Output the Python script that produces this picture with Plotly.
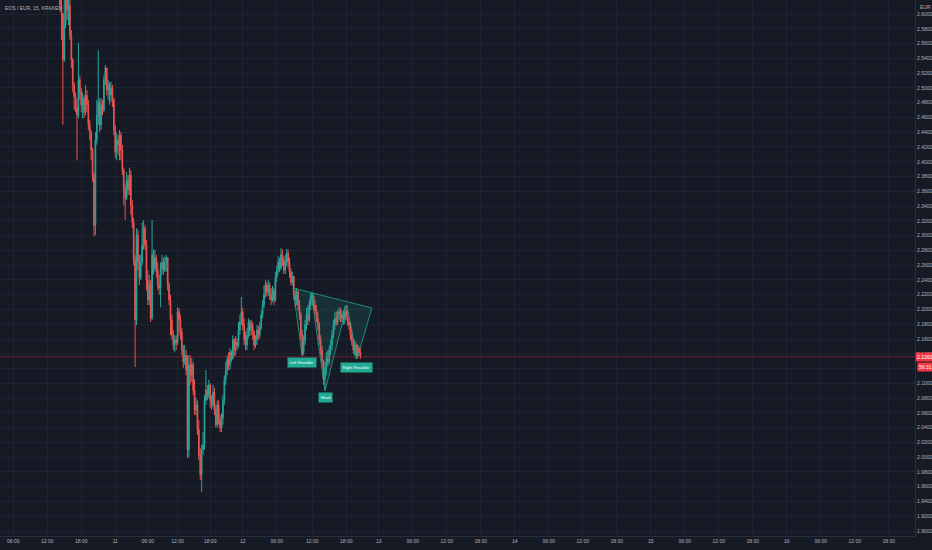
import plotly.graph_objects as go

TITLE = "EOS / EUR, 15, KRAKEN"
FIRST_OPEN = 2.633
CLOSE = [
 2.612,2.601,2.538,2.585,2.626,2.605,2.612,2.572,2.538,2.504,
 2.488,2.473,2.463,2.511,2.494,2.477,2.486,2.467,2.490,2.477,
 2.450,2.440,2.416,2.382,2.314,2.429,2.463,2.481,2.450,2.477,
 2.470,2.511,2.527,2.497,2.504,2.490,2.500,2.484,2.443,2.413,
 2.429,2.423,2.436,2.416,2.389,2.362,2.351,2.375,2.362,2.382,
 2.341,2.318,2.267,2.186,2.301,2.264,2.243,2.264,2.287,2.310,
 2.287,2.240,2.213,2.233,2.188,2.274,2.256,2.270,2.253,2.233,
 2.229,2.256,2.264,2.253,2.264,2.270,2.233,2.213,2.186,2.165,
 2.152,2.159,2.155,2.197,2.186,2.170,2.145,2.129,2.138,2.118,
 2.010,2.125,2.111,2.125,2.091,2.064,2.071,2.037,2.003,1.976,
 2.010,2.017,2.077,2.091,2.084,2.098,2.077,2.071,2.088,2.064,
 2.044,2.071,2.050,2.040,2.053,2.077,2.105,2.118,2.132,2.125,
 2.142,2.134,2.159,2.145,2.156,2.152,2.172,2.183,2.197,2.179,
 2.159,2.152,2.165,2.183,2.172,2.179,2.170,2.152,2.159,2.172,
 2.165,2.175,2.193,2.206,2.220,2.233,2.224,2.233,2.220,2.213,
 2.226,2.213,2.243,2.253,2.264,2.256,2.274,2.267,2.253,2.264,
 2.276,2.264,2.251,2.237,2.245,2.220,2.213,2.224,2.206,2.193,
 2.165,2.142,2.159,2.179,2.193,2.186,2.206,2.216,2.218,2.206,
 2.199,2.188,2.179,2.159,2.145,2.129,2.105,2.121,2.134,2.129,
 2.145,2.152,2.165,2.179,2.188,2.183,2.194,2.197,2.188,2.193,
 2.186,2.197,2.191,2.183,2.179,2.165,2.156,2.145,2.152,2.138,
 2.148,2.142,2.136,
]
HIGH = [
 2.646,2.619,2.585,2.619,2.639,2.633,2.626,2.619,2.578,2.540,
 2.508,2.494,2.484,2.561,2.517,2.500,2.494,2.490,2.504,2.497,
 2.484,2.457,2.443,2.419,2.386,2.440,2.484,2.551,2.486,2.486,
 2.484,2.517,2.531,2.527,2.511,2.508,2.508,2.504,2.486,2.450,
 2.439,2.436,2.443,2.440,2.423,2.392,2.369,2.386,2.382,2.392,
 2.389,2.348,2.324,2.274,2.310,2.308,2.274,2.274,2.318,2.321,
 2.314,2.294,2.253,2.247,2.240,2.321,2.281,2.281,2.274,2.264,
 2.247,2.264,2.274,2.270,2.272,2.274,2.267,2.237,2.220,2.193,
 2.172,2.165,2.165,2.203,2.202,2.193,2.175,2.152,2.152,2.145,
 2.138,2.138,2.138,2.134,2.129,2.105,2.080,2.077,2.050,2.012,
 2.017,2.034,2.084,2.118,2.098,2.105,2.100,2.084,2.098,2.094,
 2.071,2.077,2.077,2.057,2.059,2.084,2.111,2.129,2.138,2.142,
 2.148,2.145,2.165,2.161,2.164,2.161,2.183,2.193,2.217,2.202,
 2.188,2.170,2.175,2.188,2.186,2.186,2.183,2.172,2.165,2.179,
 2.178,2.183,2.199,2.213,2.233,2.240,2.237,2.240,2.237,2.229,
 2.232,2.229,2.251,2.259,2.272,2.270,2.283,2.281,2.272,2.274,
 2.282,2.281,2.270,2.256,2.251,2.232,2.226,2.229,2.226,2.213,
 2.197,2.172,2.165,2.186,2.202,2.206,2.213,2.222,2.224,2.221,
 2.213,2.206,2.197,2.183,2.165,2.151,2.132,2.129,2.142,2.145,
 2.151,2.159,2.172,2.186,2.197,2.197,2.199,2.203,2.202,2.199,
 2.199,2.205,2.206,2.199,2.188,2.183,2.172,2.161,2.159,2.156,
 2.153,2.151,2.148,
]
LOW = [
 2.603,2.565,2.450,2.535,2.581,2.592,2.585,2.565,2.527,2.494,
 2.470,2.467,2.402,2.459,2.484,2.467,2.459,2.459,2.463,2.467,
 2.443,2.429,2.402,2.373,2.299,2.301,2.423,2.450,2.440,2.443,
 2.463,2.467,2.504,2.490,2.484,2.477,2.481,2.474,2.436,2.405,
 2.402,2.409,2.402,2.402,2.382,2.341,2.321,2.348,2.355,2.355,
 2.328,2.310,2.260,2.122,2.179,2.253,2.233,2.240,2.260,2.281,
 2.281,2.226,2.206,2.206,2.183,2.186,2.247,2.251,2.243,2.226,
 2.220,2.203,2.247,2.247,2.251,2.251,2.226,2.206,2.165,2.159,
 2.145,2.142,2.145,2.152,2.165,2.159,2.138,2.121,2.125,2.111,
 1.999,2.000,2.098,2.102,2.084,2.057,2.057,2.030,1.996,1.969,
 1.953,2.003,2.010,2.071,2.077,2.080,2.067,2.064,2.067,2.057,
 2.040,2.040,2.044,2.034,2.034,2.044,2.071,2.098,2.111,2.118,
 2.118,2.129,2.132,2.137,2.138,2.145,2.148,2.165,2.179,2.172,
 2.152,2.145,2.145,2.161,2.164,2.165,2.159,2.145,2.148,2.152,
 2.159,2.161,2.172,2.188,2.202,2.216,2.218,2.218,2.213,2.206,
 2.210,2.206,2.210,2.237,2.247,2.251,2.253,2.259,2.248,2.248,
 2.259,2.256,2.243,2.233,2.232,2.213,2.203,2.206,2.199,2.186,
 2.159,2.137,2.138,2.152,2.172,2.179,2.183,2.199,2.206,2.199,
 2.193,2.183,2.172,2.152,2.138,2.121,2.098,2.090,2.111,2.123,
 2.125,2.138,2.145,2.161,2.172,2.178,2.179,2.186,2.183,2.183,
 2.179,2.180,2.186,2.178,2.172,2.159,2.151,2.140,2.137,2.133,
 2.134,2.137,2.133,
]
OPEN = [FIRST_OPEN] + CLOSE[:-1]
BARS = list(range(len(CLOSE)))

TICK_POS = [-33, -9, 15, 39, 62, 83, 106, 129, 153, 178, 202, 225, 249, 273,
            297, 321, 345, 369, 393, 417, 441, 465, 489, 513, 537, 561, 585]
TICK_TEXT = ["06:00", "12:00", "18:00", "11", "06:00", "12:00", "18:00", "12",
             "06:00", "12:00", "18:00", "13", "06:00", "12:00", "18:00", "14",
             "06:00", "12:00", "18:00", "15", "06:00", "12:00", "18:00", "16",
             "06:00", "12:00", "18:00"]

# Head & shoulders drawing points (bar index, price)
HS_X = [164.5, 170.8, 177.2, 187.1, 202.6, 209.6, 220.2, 164.5]
HS_Y = [2.229, 2.138, 2.222, 2.090, 2.206, 2.133, 2.202, 2.229]
HS_LABELS = [("Left Shoulder", 170.8, 2.128), ("Head", 187.1, 2.081), ("Right Shoulder", 209.6, 2.122)]

LAST_PRICE = 2.1360
LAST_TEXT = "2.1360"
COUNTDOWN = "56:31"

BG = "#161A25"
GRID = "#1F2331"
TXT = "#B2B5BE"
UP = "#26A69A"
DOWN = "#EF5350"
FONT = "Liberation Sans"

fig = go.Figure()
fig.add_trace(go.Candlestick(
    x=BARS, open=OPEN, high=HIGH, low=LOW, close=CLOSE,
    increasing=dict(line=dict(color=UP, width=1), fillcolor=UP),
    decreasing=dict(line=dict(color=DOWN, width=1), fillcolor=DOWN),
    whiskerwidth=0, showlegend=False, hoverinfo="skip",
))
fig.add_trace(go.Scatter(
    x=HS_X, y=HS_Y, mode="lines", fill="toself",
    fillcolor="rgba(34,171,148,0.16)",
    line=dict(color="rgba(34,171,148,0.75)", width=1),
    showlegend=False, hoverinfo="skip",
))

for txt, xx, yy in HS_LABELS:
    fig.add_annotation(x=xx, y=yy, text=txt, showarrow=False,
                       font=dict(family=FONT, size=4, color="#FFFFFF"),
                       bgcolor="#22AB94", borderpad=1.8, xanchor="center", yanchor="middle")

fig.add_shape(type="line", xref="paper", x0=0, x1=1, y0=LAST_PRICE, y1=LAST_PRICE,
              line=dict(color="rgba(242,54,69,0.35)", width=1))

fig.add_annotation(xref="paper", x=1.0, y=LAST_PRICE, text=LAST_TEXT, showarrow=False,
                   xanchor="left", yanchor="middle", font=dict(family=FONT, size=5, color="#FFFFFF"),
                   bgcolor="#F23645", borderpad=1)
fig.add_annotation(xref="paper", x=1.0, y=LAST_PRICE - 0.0142, text=COUNTDOWN, showarrow=False,
                   xanchor="left", xshift=2, yanchor="middle", font=dict(family=FONT, size=5, color="#FFFFFF"),
                   bgcolor="#F23645", borderpad=1)
fig.add_annotation(xref="paper", yref="paper", x=1.0, y=1.0, text="EUR", showarrow=False,
                   xanchor="left", xshift=3, yanchor="top", yshift=-2,
                   font=dict(family=FONT, size=5, color=TXT))
fig.add_annotation(xref="paper", yref="paper", x=0, y=1.0, text=TITLE, showarrow=False,
                   xanchor="left", xshift=3, yanchor="top", yshift=-3,
                   font=dict(family=FONT, size=5, color=TXT))

fig.update_layout(
    width=932, height=550,
    margin=dict(l=0, r=17, t=0, b=14),
    paper_bgcolor=BG, plot_bgcolor=BG,
    font=dict(family=FONT, size=5, color=TXT),
    xaxis=dict(range=[-42.35, 603.5], tickmode="array", tickvals=TICK_POS, ticktext=TICK_TEXT,
               showgrid=True, gridcolor=GRID, gridwidth=1, zeroline=False,
               showline=True, linecolor="#2A2E39", ticks="", rangeslider=dict(visible=False),
               tickfont=dict(family=FONT, size=5, color=TXT), fixedrange=True),
    yaxis=dict(range=[1.8933, 2.619], side="right", tick0=1.90, dtick=0.02, tickformat=".4f",
               showgrid=True, gridcolor=GRID, gridwidth=1, zeroline=False,
               showline=True, linecolor="#2A2E39", ticks="",
               tickfont=dict(family=FONT, size=5, color=TXT), fixedrange=True),
)

fig.write_html("out.html", config={"displayModeBar": False},
               post_script="document.body.style.margin='0';document.body.style.background='#161A25';")
